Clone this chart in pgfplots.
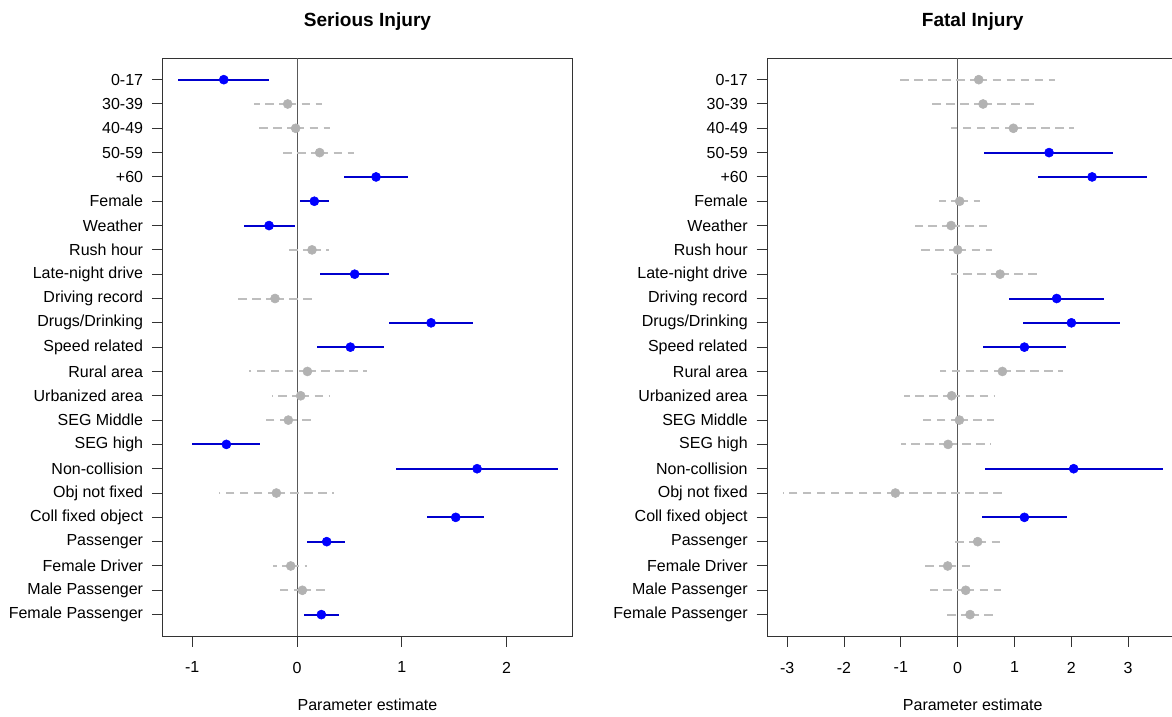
\documentclass[border=0pt]{standalone}
\usepackage{fontspec}
\setmainfont{Liberation Sans}
\usepackage{pgfplots}
\usepackage{pgfplotstable}
\pgfplotsset{compat=1.18}

\definecolor{ptblue}{RGB}{0,0,255}
\definecolor{lnblue}{RGB}{0,0,205}
\definecolor{ptgray}{RGB}{178,178,178}
\definecolor{lngray}{RGB}{190,190,190}

% row est lo hi  (row 1 = top)
\pgfplotstableread{
row est lo hi
1 -0.699 -1.138 -0.264
5 0.754 0.448 1.056
6 0.165 0.029 0.308
7 -0.267 -0.509 -0.019
9 0.550 0.219 0.878
11 1.279 0.881 1.679
12 0.509 0.188 0.830
16 -0.674 -1.002 -0.350
17 1.718 0.945 2.488
19 1.514 1.237 1.788
20 0.283 0.099 0.458
23 0.232 0.067 0.401
}\seriousSig
\pgfplotstableread{
row est lo hi
2 -0.089 -0.410 0.241
3 -0.013 -0.391 0.315
4 0.216 -0.162 0.544
8 0.143 -0.092 0.305
10 -0.210 -0.563 0.143
13 0.099 -0.461 0.665
14 0.035 -0.242 0.315
15 -0.083 -0.331 0.162
18 -0.197 -0.744 0.353
21 -0.060 -0.226 0.099
22 0.051 -0.194 0.302
}\seriousNs
\pgfplotstableread{
row est lo hi
4 1.608 0.470 2.740
5 2.365 1.415 3.326
10 1.742 0.904 2.569
11 2.001 1.144 2.851
12 1.174 0.440 1.900
17 2.041 0.475 3.614
19 1.174 0.422 1.925
}\fatalSig
\pgfplotstableread{
row est lo hi
1 0.370 -1.021 1.707
2 0.447 -0.451 1.350
3 0.980 -0.111 2.048
6 0.035 -0.334 0.399
7 -0.116 -0.750 0.517
8 0.000 -0.697 0.605
9 0.746 -0.111 1.478
13 0.787 -0.304 1.848
14 -0.106 -0.938 0.651
15 0.030 -0.669 0.641
16 -0.169 -0.991 0.593
18 -1.096 -3.079 0.781
20 0.352 -0.111 0.827
21 -0.176 -0.644 0.282
22 0.141 -0.480 0.757
23 0.218 -0.240 0.686
}\fatalNs

\pgfplotsset{
  forest/.style={
    scale only axis,
    height=433.3pt,
    ymin=0.12, ymax=23.88,
    y dir=reverse,
    ytick={1,...,23},
    yticklabels={0-17,30-39,40-49,50-59,+60,Female,Weather,Rush hour,Late-night drive,Driving record,Drugs/Drinking,Speed related,Rural area,Urbanized area,SEG Middle,SEG high,Non-collision,Obj not fixed,Coll fixed object,Passenger,Female Driver,Male Passenger,Female Passenger},
    tick align=outside,
    major tick length=8pt,
    xtick pos=bottom, ytick pos=left,
    axis line style={black!80, line width=0.75pt},
    tick style={black!80, line width=0.75pt},
    tick label style={font=\fontsize{12}{14}\selectfont},
    /pgf/number format/assume math mode=true,
    yticklabel style={anchor=east, inner sep=0pt},
    yticklabel shift=6.5pt,
    xticklabel style={anchor=north, inner sep=0pt, yshift=-11.25pt},
    xticklabel shift=0pt,
    title style={at={(axis description cs:0.5,1)}, anchor=base, yshift=17.5pt, font=\bfseries\fontsize{14.3}{17}\selectfont},
    xlabel={Parameter estimate},
    xlabel style={at={(axis description cs:0.5,0)}, anchor=base, yshift=-55.5pt, font=\fontsize{12}{14}\selectfont},
  },
  sig/.style={only marks, mark=*, mark size=3.4pt, color=ptblue,
    error bars/.cd, x dir=both, x explicit, error mark=none,
    error bar style={line width=1.5pt, color=lnblue, solid}},
  ns/.style={only marks, mark=*, mark size=3.4pt, color=ptgray,
    error bars/.cd, x dir=both, x explicit, error mark=none,
    error bar style={line width=1.5pt, color=lngray, dash pattern=on 6.5pt off 4pt}},
}

\begin{document}
\begin{tikzpicture}
\begin{axis}[forest, at={(0,0)}, anchor=north west,
  width=307.2pt, xmin=-1.282, xmax=2.626, xtick={-1,0,1,2},
  title={Serious Injury}]
  \addplot[black!65, line width=0.75pt] coordinates {(0,0.12) (0,23.88)};
  \addplot[ns] table[x=est, y=row, x error plus expr=\thisrow{hi}-\thisrow{est}, x error minus expr=\thisrow{est}-\thisrow{lo}] {\seriousNs};
  \addplot[sig] table[x=est, y=row, x error plus expr=\thisrow{hi}-\thisrow{est}, x error minus expr=\thisrow{est}-\thisrow{lo}] {\seriousSig};
\end{axis}
\begin{axis}[forest, at={(453.45pt,0)}, anchor=north west,
  width=308.2pt, xmin=-3.35, xmax=3.88, xtick={-3,...,3},
  title={Fatal Injury}]
  \addplot[black!65, line width=0.75pt] coordinates {(0,0.12) (0,23.88)};
  \addplot[ns] table[x=est, y=row, x error plus expr=\thisrow{hi}-\thisrow{est}, x error minus expr=\thisrow{est}-\thisrow{lo}] {\fatalNs};
  \addplot[sig] table[x=est, y=row, x error plus expr=\thisrow{hi}-\thisrow{est}, x error minus expr=\thisrow{est}-\thisrow{lo}] {\fatalSig};
\end{axis}
\pgfresetboundingbox
\path[use as bounding box] (-122pt,43.7pt) rectangle (757pt,-494pt);
\end{tikzpicture}
\end{document}
